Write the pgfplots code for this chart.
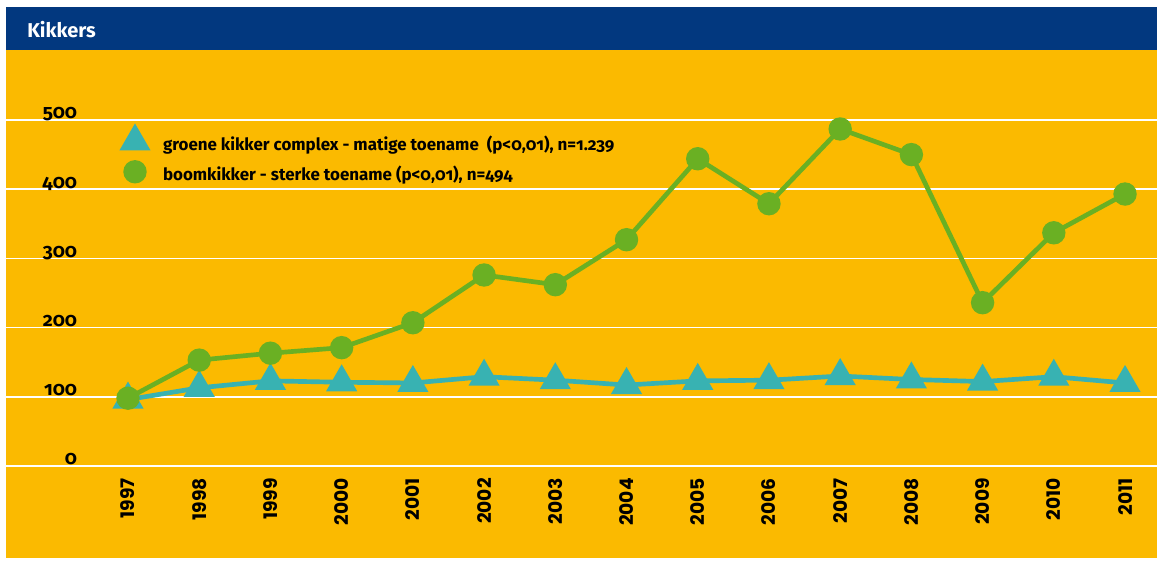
\documentclass[border=0pt]{standalone}
\usepackage{fontspec}
\setmainfont{Fira Sans}[Numbers=OldStyle]
\newfontfamily\xfont{Poppins}
\usepackage{pgfplots}
\pgfplotsset{compat=1.18}
\definecolor{cyellow}{HTML}{FBBA00}
\definecolor{cblue}{HTML}{02387F}
\definecolor{cgreen}{HTML}{6AB023}
\definecolor{cteal}{HTML}{38B2B2}
\begin{document}
\begin{tikzpicture}
\useasboundingbox[fill=white] (0,0) rectangle (870pt,422.25pt);
\fill[cyellow] (4.5pt,3.75pt) rectangle (867.75pt,384.75pt);
\fill[cblue] (4.5pt,384.75pt) rectangle (867.75pt,417pt);
\node[anchor=west, text=white, font=\fontsize{15}{18}\selectfont\bfseries, inner sep=0pt] at (20.25pt,399.75pt) {Kikkers};
\begin{axis}[
  at={(4.5pt,72.75pt)}, anchor=south west, scale only axis,
  width=863.25pt, height=259.5pt,
  xmin=-1.7131, xmax=14.449, ymin=0, ymax=500,
  axis line style={draw=none}, tick style={draw=none}, major tick length=0pt,
  ytick={0,100,200,300,400,500}, ymajorgrids, grid style={white, line width=1.1pt},
  xtick={0,1,2,3,4,5,6,7,8,9,10,11,12,13,14},
  xticklabels={1997,1998,1999,2000,2001,2002,2003,2004,2005,2006,2007,2008,2009,2010,2011},
  xticklabel style={rotate=90, anchor=east, inner sep=0pt, font=\xfont\bfseries\fontsize{14}{14}\selectfont},
  xticklabel shift=9pt,
  yticklabel style={anchor=base east, inner sep=0pt, xshift=53.5pt, yshift=0.75pt, font=\bfseries\fontsize{14.5}{14.5}\selectfont},
  /pgf/number format/assume math mode=true,
  clip=false,
  legend style={at={(0.1005,0.9785)}, anchor=north west, draw=none, fill=none, inner sep=0pt, outer sep=0pt,
    row sep=2.75pt, column sep=0pt, font=\bfseries\fontsize{12.7}{14}\selectfont,
    nodes={inner sep=0pt, text height=9pt, text depth=3pt}},
  legend cell align=left,
  legend image code/.code={\path[draw=none,fill=none] (-10pt,-5pt) rectangle (21pt,14pt); \draw[#1, only marks] plot coordinates {(0pt,3.5pt)};},
]
\addplot[cteal, line width=3.5pt, mark=triangle*, mark size=10pt, mark options={draw=none, fill=cteal}]
  coordinates {(0,96) (1,113) (2,123) (3,121) (4,120) (5,129) (6,124) (7,117) (8,123) (9,124) (10,130) (11,125) (12,122) (13,129) (14,120)};
\addlegendentry{groene kikker complex - matige toename \ (p<0,01), n=1.239}
\addplot[cgreen, line width=3.5pt, mark=*, mark size=7pt, mark options={draw=none, fill=cgreen}]
  coordinates {(0,98) (1,153) (2,163) (3,171) (4,207) (5,276) (6,262) (7,327) (8,444) (9,379) (10,487) (11,450) (12,236) (13,337) (14,393)};
\addlegendentry{boomkikker - sterke toename (p<0,01), n=494}
\end{axis}
\end{tikzpicture}
\end{document}
